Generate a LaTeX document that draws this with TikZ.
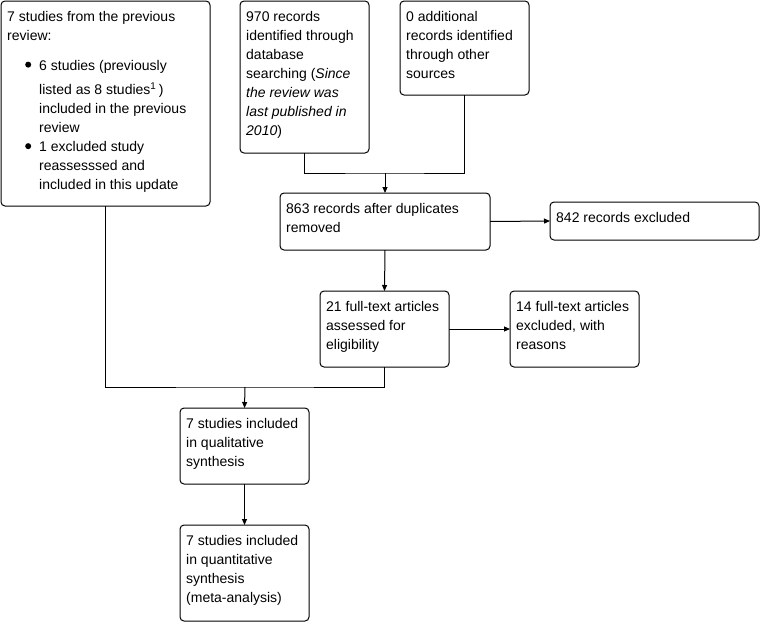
\documentclass[tikz,border=0pt]{standalone}
\usepackage{fontspec}
\setmainfont{Liberation Sans}
\usetikzlibrary{arrows.meta}
\newcommand\mybullet{\tikz[x=1pt,y=1pt,baseline=0pt]\fill[black] (3,5.4) circle (3);}
\begin{document}
\begin{tikzpicture}[x=1pt,y=-1pt,
  box/.style={draw=black, line width=1pt, rounded corners=4pt, anchor=north west, inner sep=0pt, outer sep=0pt},
  txt/.style={anchor=north west, inner sep=0pt, align=left, font=\fontsize{14}{19}\selectfont},
  link/.style={draw=black, line width=1pt},
  arr/.style={link, -{Triangle[length=6pt,width=5pt]}}]
\useasboundingbox (0,0) rectangle (762,621);
% boxes
\node[box, minimum width=209pt, minimum height=205pt] (A) at (1,1) {};
\node[box, minimum width=129pt, minimum height=152pt] (B) at (240,1) {};
\node[box, minimum width=129pt, minimum height=94pt] (C) at (400,1) {};
\node[box, minimum width=210pt, minimum height=57pt] (D) at (280,193) {};
\node[box, minimum width=209pt, minimum height=38pt] (E) at (550,202) {};
\node[box, minimum width=129pt, minimum height=76pt] (F) at (320,291) {};
\node[box, minimum width=129pt, minimum height=76pt] (G) at (510,291) {};
\node[box, minimum width=129pt, minimum height=76pt] (H) at (180,408) {};
\node[box, minimum width=129pt, minimum height=96pt] (I) at (180,525) {};
% texts
\node[txt] (tA) at ([shift={(6,10)}]A.north west) {7 studies from the previous\\
review:\\[10.7pt]
\hspace*{18pt}\mybullet\hspace*{8pt}6 studies (previously\\[5.5pt]
\hspace*{32pt}listed as 8 studies\textsuperscript{1}\,)\\
\hspace*{32pt}included in the previous\\
\hspace*{32pt}review\\
\hspace*{18pt}\mybullet\hspace*{8pt}1 excluded study\\
\hspace*{32pt}reassesssed and\\
\hspace*{32pt}included in this update};
\node[txt] (tB) at ([shift={(6,10)}]B.north west) {970 records\\identified through\\database\\searching (\textit{Since}\\\textit{the review was}\\\textit{last published in}\\\textit{2010})};
\node[txt] (tC) at ([shift={(6,10)}]C.north west) {0 additional\\records identified\\through other\\sources};
\node[txt] (tD) at ([shift={(6,10)}]D.north west) {863 records after duplicates\\removed};
\node[txt] (tE) at ([shift={(6,10)}]E.north west) {842 records excluded};
\node[txt] (tF) at ([shift={(6,10)}]F.north west) {21 full-text articles\\assessed for\\eligibility};
\node[txt] (tG) at ([shift={(6,10)}]G.north west) {14 full-text articles\\excluded, with\\reasons};
\node[txt] (tH) at ([shift={(6,10)}]H.north west) {7 studies included\\in qualitative\\synthesis};
\node[txt] (tI) at ([shift={(6,10)}]I.north west) {7 studies included\\in quantitative\\synthesis\\(meta-analysis)};
% connectors
\coordinate (j1) at (385,173);
\coordinate (j2) at (245,387);
\draw[link] (B.south) |- (j1) -| (C.south);
\draw[arr] (j1) -- (D.north);
\draw[arr] (D.south) -- (F.north);
\draw[arr] (D.east) -- (E.west);
\draw[arr] (F.east) -- (G.west);
\draw[link] (A.south) |- (j2) -| (F.south);
\draw[arr] (j2) -- (H.north);
\draw[arr] (H.south) -- (I.north);
\end{tikzpicture}
\end{document}
